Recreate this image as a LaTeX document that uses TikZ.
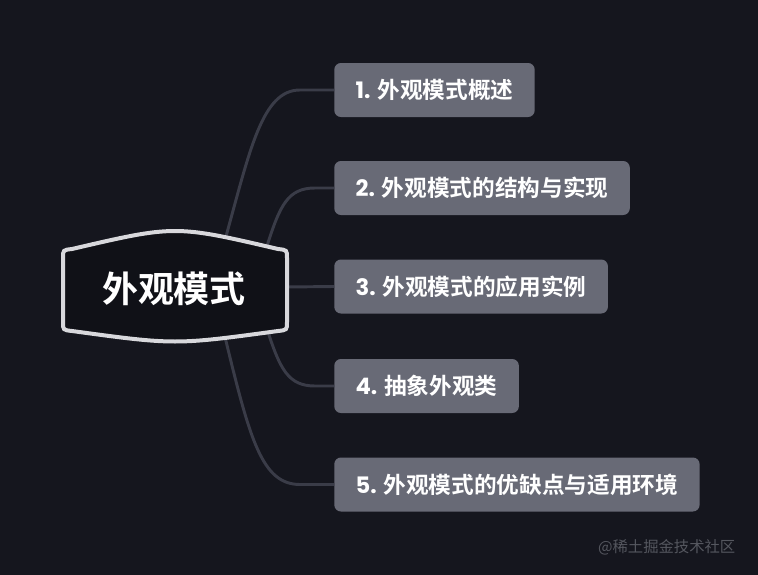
\documentclass[tikz,border=0pt]{standalone}
\usepackage{fontspec}
\usepackage{tikz}
\usetikzlibrary{positioning,calc}
\newfontfamily\cjkb{Noto Sans CJK SC Bold}
\newfontfamily\cjk{Noto Sans CJK SC}
\newfontfamily\numfont{Poppins}[BoldFont=* Bold]
\definecolor{bgdark}{HTML}{15161E}
\definecolor{rootfill}{HTML}{101117}
\definecolor{rootline}{HTML}{D8D8DC}
\definecolor{linegray}{HTML}{3A3C48}
\definecolor{boxgray}{HTML}{686A76}
\definecolor{markgray}{HTML}{55575F}

\begin{document}
\begin{tikzpicture}[
    x=0.75pt, y=-0.75pt,
    topic/.style={draw=none, fill=boxgray, rounded corners=5pt, anchor=west, minimum height=40.5pt, inner xsep=16pt, text=white, font=\cjkb\fontsize{17}{19}\selectfont},
    branch/.style={draw=linegray, line width=2.2pt}
]
\fill[bgdark] (0,0) rectangle (758,575);
\useasboundingbox (0,0) rectangle (758,575);

% attach points on the root outline
\coordinate (r1) at (225,240);
\coordinate (r2) at (267,246);
\coordinate (r3) at (286,287);
\coordinate (r4) at (267,329);
\coordinate (r5) at (225,337);

\node[topic] (b1) at (334,90) {{\numfont\bfseries 1.} 外观模式概述};
\node[topic] (b2) at (334,188) {{\numfont\bfseries 2.} 外观模式的结构与实现};
\node[topic] (b3) at (334,286.5) {{\numfont\bfseries 3.} 外观模式的应用实例};
\node[topic] (b4) at (334,386) {{\numfont\bfseries 4.} 抽象外观类};
\node[topic] (b5) at (334,484.5) {{\numfont\bfseries 5.} 外观模式的优缺点与适用环境};

\draw[branch] (r1) .. controls (250,150) and (262,90) .. (300,90) -- (b1.west);
\draw[branch] (r2) .. controls (280,205) and (288,188) .. (315,188) -- (b2.west);
\draw[branch] (r3) -- (b3.west);
\draw[branch] (r4) .. controls (280,369) and (288,386) .. (315,386) -- (b4.west);
\draw[branch] (r5) .. controls (250,440) and (262,484.5) .. (300,484.5) -- (b5.west);

% root outline
\draw[draw=rootline, fill=rootfill, line width=3pt]
    (63,322) -- (63,258) .. controls (63,250) .. (72,249)
    .. controls (175,225) .. (278,249) .. controls (287,250) .. (287,258)
    -- (287,322) .. controls (287,330) .. (278,331)
    .. controls (175,345) .. (72,331) .. controls (63,330) .. (63,322) -- cycle;
\node[text=white, font=\cjkb\fontsize{27}{30}\selectfont] (root) at (174,289) {外观模式};

\node[anchor=east, text=markgray, font=\cjk\fontsize{11.5}{13}\selectfont] (mark) at (740,547) {@稀土掘金技术社区};
\end{tikzpicture}
\end{document}
